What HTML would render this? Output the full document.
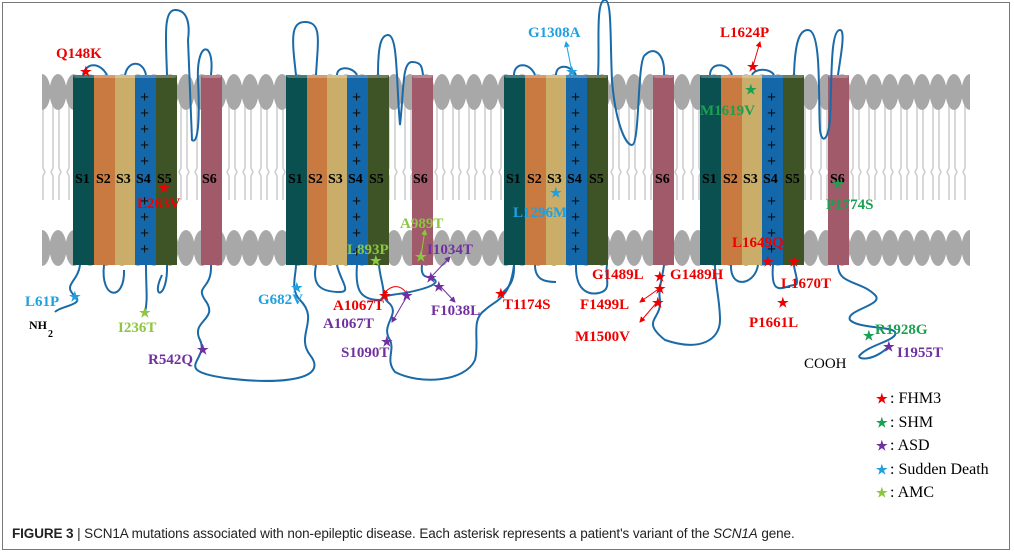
<!DOCTYPE html>
<html><head><meta charset="utf-8"><style>
html,body{margin:0;padding:0;background:#fff}
body{width:1014px;height:554px;overflow:hidden;position:relative}
.frame{position:absolute;left:2px;top:2px;width:1006px;height:546px;border:1.5px solid #777}
.cap{position:absolute;left:12px;top:526px;font:13.5px "Liberation Sans",sans-serif;color:#222;letter-spacing:-0.1px}
svg text{font-family:"Liberation Serif",serif;font-weight:bold}
</style></head><body>
<div class="frame"></div>
<svg width="1014" height="554" style="position:absolute;left:0;top:0">
<defs>
<pattern id="tails" x="0" y="0" width="16" height="200" patternUnits="userSpaceOnUse">
<path d="M5,105 L5,168 L3,172 L5,176 L5,235 M11,105 L11,168 L13,172 L11,176 L11,235" stroke="#cfcfcf" stroke-width="1.6" fill="none"/>
</pattern>
<pattern id="heads" x="50" y="0" width="16" height="300" patternUnits="userSpaceOnUse">
<ellipse cx="8" cy="92" rx="8.5" ry="18" fill="#a8a8a8"/>
<ellipse cx="8" cy="248" rx="8.5" ry="18" fill="#a8a8a8"/>
</pattern>
<marker id="ar" markerWidth="6" markerHeight="6" refX="5" refY="3" orient="auto"><path d="M0,0 L6,3 L0,6z" fill="context-stroke"/></marker>
</defs>
<rect x="42" y="100" width="928" height="140" fill="url(#tails)"/>
<rect x="42" y="70" width="928" height="200" fill="url(#heads)"/>

<g id="cyl">
<rect x="73" y="75" width="21" height="190" fill="#0b5050"/>
<rect x="94" y="75" width="21" height="190" fill="#c97a40"/>
<rect x="115" y="75" width="20" height="190" fill="#c9ad68"/>
<rect x="135" y="75" width="21" height="190" fill="#1467a8"/>
<rect x="156" y="75" width="21" height="190" fill="#3e5426"/>
<rect x="201" y="75" width="21" height="190" fill="#a05a6a"/>
<rect x="286" y="75" width="21" height="190" fill="#0b5050"/>
<rect x="307" y="75" width="20" height="190" fill="#c97a40"/>
<rect x="327" y="75" width="20" height="190" fill="#c9ad68"/>
<rect x="347" y="75" width="21" height="190" fill="#1467a8"/>
<rect x="368" y="75" width="21" height="190" fill="#3e5426"/>
<rect x="412" y="75" width="21" height="190" fill="#a05a6a"/>
<rect x="504" y="75" width="21" height="190" fill="#0b5050"/>
<rect x="525" y="75" width="21" height="190" fill="#c97a40"/>
<rect x="546" y="75" width="20" height="190" fill="#c9ad68"/>
<rect x="566" y="75" width="21" height="190" fill="#1467a8"/>
<rect x="587" y="75" width="21" height="190" fill="#3e5426"/>
<rect x="653" y="75" width="21" height="190" fill="#a05a6a"/>
<rect x="700" y="75" width="21" height="190" fill="#0b5050"/>
<rect x="721" y="75" width="21" height="190" fill="#c97a40"/>
<rect x="742" y="75" width="20" height="190" fill="#c9ad68"/>
<rect x="762" y="75" width="21" height="190" fill="#1467a8"/>
<rect x="783" y="75" width="21" height="190" fill="#3e5426"/>
<rect x="828" y="75" width="21" height="190" fill="#a05a6a"/>
</g>
<g fill="#fff" opacity="0.25">
<rect x="73" y="72" width="104" height="6" rx="3"/><rect x="201" y="72" width="21" height="6" rx="3"/>
<rect x="286" y="72" width="103" height="6" rx="3"/><rect x="412" y="72" width="21" height="6" rx="3"/>
<rect x="504" y="72" width="104" height="6" rx="3"/><rect x="653" y="72" width="21" height="6" rx="3"/>
<rect x="700" y="72" width="104" height="6" rx="3"/><rect x="828" y="72" width="21" height="6" rx="3"/>
</g>

<g font-size="16" fill="#111" style="font-family:'Liberation Sans';font-weight:normal">
<text x="140" y="102">+</text><text x="140" y="118">+</text><text x="140" y="134">+</text><text x="140" y="150">+</text><text x="140" y="166">+</text><text x="140" y="206">+</text><text x="140" y="222">+</text><text x="140" y="238">+</text><text x="140" y="254">+</text>
<text x="352" y="102">+</text><text x="352" y="118">+</text><text x="352" y="134">+</text><text x="352" y="150">+</text><text x="352" y="166">+</text><text x="352" y="206">+</text><text x="352" y="222">+</text><text x="352" y="238">+</text><text x="352" y="257">+</text>
<text x="571" y="102">+</text><text x="571" y="118">+</text><text x="571" y="134">+</text><text x="571" y="150">+</text><text x="571" y="166">+</text><text x="571" y="206">+</text><text x="571" y="222">+</text><text x="571" y="238">+</text><text x="571" y="254">+</text>
<text x="767" y="102">+</text><text x="767" y="118">+</text><text x="767" y="134">+</text><text x="767" y="150">+</text><text x="767" y="166">+</text><text x="767" y="206">+</text><text x="767" y="222">+</text><text x="767" y="238">+</text><text x="767" y="254">+</text>
</g>

<g font-size="14" fill="#000">
<text x="75" y="183">S1</text><text x="96" y="183">S2</text><text x="116" y="183">S3</text><text x="136" y="183">S4</text><text x="157" y="183">S5</text><text x="202" y="183">S6</text>
<text x="288" y="183">S1</text><text x="308" y="183">S2</text><text x="328" y="183">S3</text><text x="348" y="183">S4</text><text x="369" y="183">S5</text><text x="413" y="183">S6</text>
<text x="506" y="183">S1</text><text x="527" y="183">S2</text><text x="547" y="183">S3</text><text x="567" y="183">S4</text><text x="589" y="183">S5</text><text x="655" y="183">S6</text>
<text x="702" y="183">S1</text><text x="723" y="183">S2</text><text x="743" y="183">S3</text><text x="763" y="183">S4</text><text x="785" y="183">S5</text><text x="830" y="183">S6</text>
</g>

<g fill="none" stroke="#1a6aa8" stroke-width="2">
<path d="M83,75 C86,62 100,62 107,75"/>
<path d="M125,75 C128,60 143,60 146,75"/>
<path d="M167,75 C166,40 163,10 175,10 C188,10 190,25 188,40 L192,140 C198,145 200,120 198,80 C196,40 215,40 211,75"/>
<path d="M80,265 C78,282 62,285 75,296 C85,305 60,306 55,312"/>
<path d="M104,265 C100,300 125,302 124,270"/>
<path d="M146,265 C146,290 148,300 145,312"/>
<path d="M167,265 C168,300 150,300 162,275"/>
<path d="M211,265 C212,290 195,285 205,300 C220,320 190,320 200,340 C210,360 170,370 225,378 C280,385 330,380 310,355 C295,335 320,320 300,300 C290,290 296,275 296,265"/>
<path d="M296,75 C292,40 290,22 305,22 C322,22 318,40 316,75"/>
<path d="M337,75 C337,66 352,66 357,75"/>
<path d="M378,75 C378,50 380,35 388,35 C398,35 396,80 400,125 C404,90 402,62 412,62 C422,62 422,68 423,75"/>
<path d="M316,265 C312,285 320,292 340,292 C352,292 340,280 337,265"/>
<path d="M357,265 C355,290 360,300 380,300 C388,296 380,280 379,265"/>
<path d="M422,265 C420,280 430,276 432,278 C445,284 420,290 405,293 C385,296 380,295 390,304 C400,315 380,325 390,340 C395,350 385,360 395,372 C420,385 465,382 475,360 C480,340 470,320 485,310 C495,300 510,300 514,265"/>
<path d="M514,75 C514,62 530,62 535,75"/>
<path d="M556,75 C556,64 570,64 576,75"/>
<path d="M598,75 C600,50 595,0 605,0 C612,0 610,40 612,80 C615,120 625,145 632,145 C640,145 637,60 645,55 C655,45 665,55 664,75"/>
<path d="M514,265 C515,285 505,290 502,293"/>
<path d="M535,265 C535,280 545,282 556,282"/>
<path d="M576,265 C575,300 600,295 605,290 C610,285 605,275 607,265"/>
<path d="M664,265 C662,280 658,290 660,300 C662,320 640,320 665,340 C700,352 720,340 720,320 C720,300 715,285 715,265"/>
<path d="M710,75 C710,62 728,62 732,75"/>
<path d="M752,75 C755,68 770,68 774,75"/>
<path d="M794,75 C795,40 800,30 808,30 C822,30 818,100 820,130 C822,145 828,140 830,120 C832,80 830,30 840,30 C846,30 840,60 838,75"/>
<path d="M731,265 C730,290 755,285 758,265"/>
<path d="M773,265 C770,300 785,285 795,285 C800,285 794,270 794,265"/>
<path d="M838,265 C838,285 860,280 875,295 C885,305 845,310 850,320 C860,330 900,325 895,335 C890,342 870,345 860,355 C855,360 875,362 890,345"/>
</g>

<g stroke-width="1" fill="none">
<line x1="572" y1="72" x2="566" y2="42" stroke="#1fa0e0" marker-end="url(#ar)"/>
<line x1="753" y1="66" x2="760" y2="42" stroke="#e00" marker-end="url(#ar)"/>
<line x1="660" y1="288" x2="640" y2="302" stroke="#e00" marker-end="url(#ar)"/>
<line x1="658" y1="301" x2="640" y2="322" stroke="#e00" marker-end="url(#ar)"/>
<line x1="421" y1="256" x2="425" y2="230" stroke="#8dc63f" marker-end="url(#ar)"/>
<line x1="432" y1="276" x2="450" y2="257" stroke="#7030a0" marker-end="url(#ar)"/>
<line x1="440" y1="286" x2="455" y2="302" stroke="#7030a0" marker-end="url(#ar)"/>
<path d="M407,294 C400,283 390,285 383,295" stroke="#e00" marker-end="url(#ar)"/>
<line x1="406" y1="298" x2="392" y2="322" stroke="#7030a0" marker-end="url(#ar)"/>
</g>

<g font-size="13" font-family="DejaVu Sans">
<text x="80" y="76" fill="#e00">★</text>
<text x="158" y="192" fill="#e00">★</text>
<text x="69" y="301" fill="#1fa0e0">★</text>
<text x="139" y="317" fill="#8dc63f">★</text>
<text x="197" y="354" fill="#7030a0">★</text>
<text x="291" y="292" fill="#1fa0e0">★</text>
<text x="370" y="265" fill="#8dc63f">★</text>
<text x="415" y="261" fill="#8dc63f">★</text>
<text x="425" y="282" fill="#7030a0">★</text>
<text x="433" y="291" fill="#7030a0">★</text>
<text x="379" y="300" fill="#e00">★</text>
<text x="401" y="300" fill="#7030a0">★</text>
<text x="381" y="346" fill="#7030a0">★</text>
<text x="495" y="298" fill="#e00">★</text>
<text x="566" y="76" fill="#1fa0e0">★</text>
<text x="550" y="197" fill="#1fa0e0">★</text>
<text x="654" y="281" fill="#e00">★</text>
<text x="654" y="293" fill="#e00">★</text>
<text x="652" y="307" fill="#e00">★</text>
<text x="747" y="71" fill="#e00">★</text>
<text x="745" y="94" fill="#1aa050">★</text>
<text x="762" y="266" fill="#e00">★</text>
<text x="788" y="266" fill="#e00">★</text>
<text x="777" y="307" fill="#e00">★</text>
<text x="832" y="188" fill="#1aa050">★</text>
<text x="863" y="340" fill="#1aa050">★</text>
<text x="883" y="351" fill="#7030a0">★</text>
</g>

<g font-size="15">
<text x="56" y="58" fill="#e00">Q148K</text>
<text x="137" y="208" fill="#e00">L263V</text>
<text x="25" y="306" fill="#1fa0e0">L61P</text>
<text x="118" y="332" fill="#8dc63f">I236T</text>
<text x="148" y="364" fill="#7030a0">R542Q</text>
<text x="258" y="304" fill="#1fa0e0">G682V</text>
<text x="400" y="228" fill="#8dc63f">A989T</text>
<text x="347" y="254" fill="#8dc63f">L893P</text>
<text x="427" y="254" fill="#7030a0">I1034T</text>
<text x="333" y="310" fill="#e00">A1067T</text>
<text x="323" y="328" fill="#7030a0">A1067T</text>
<text x="431" y="315" fill="#7030a0">F1038L</text>
<text x="341" y="357" fill="#7030a0">S1090T</text>
<text x="503" y="309" fill="#e00">T1174S</text>
<text x="528" y="37" fill="#1fa0e0">G1308A</text>
<text x="513" y="217" fill="#1fa0e0">L1296M</text>
<text x="592" y="279" fill="#e00">G1489L</text>
<text x="670" y="279" fill="#e00">G1489H</text>
<text x="580" y="309" fill="#e00">F1499L</text>
<text x="575" y="341" fill="#e00">M1500V</text>
<text x="720" y="37" fill="#e00">L1624P</text>
<text x="700" y="115" fill="#1aa050">M1619V</text>
<text x="732" y="247" fill="#e00">L1649Q</text>
<text x="781" y="288" fill="#e00">L1670T</text>
<text x="749" y="327" fill="#e00">P1661L</text>
<text x="826" y="209" fill="#1aa050">P1774S</text>
<text x="875" y="334" fill="#1aa050">R1928G</text>
<text x="897" y="357" fill="#7030a0">I1955T</text>
</g>
<g fill="#000">
<text x="29" y="329" font-size="12" style="font-weight:bold">NH</text>
<text x="48" y="337" font-size="10" style="font-weight:bold">2</text>
<text x="804" y="368" font-size="15" style="font-weight:normal">COOH</text>
</g>
<g font-size="16">
<text x="876" y="403" fill="#e00" font-family="DejaVu Sans" font-size="13">★</text><text x="890" y="403" style="font-weight:normal">: FHM3</text>
<text x="876" y="427" fill="#1aa050" font-family="DejaVu Sans" font-size="13">★</text><text x="890" y="427" style="font-weight:normal">: SHM</text>
<text x="876" y="450" fill="#7030a0" font-family="DejaVu Sans" font-size="13">★</text><text x="890" y="450" style="font-weight:normal">: ASD</text>
<text x="876" y="474" fill="#1fa0e0" font-family="DejaVu Sans" font-size="13">★</text><text x="890" y="474" style="font-weight:normal">: Sudden Death</text>
<text x="876" y="497" fill="#8dc63f" font-family="DejaVu Sans" font-size="13">★</text><text x="890" y="497" style="font-weight:normal">: AMC</text>
</g>
</svg>
<div class="cap"><b>FIGURE 3</b> | SCN1A mutations associated with non-epileptic disease. Each asterisk represents a patient's variant of the <i>SCN1A</i> gene.</div>
</body></html>
